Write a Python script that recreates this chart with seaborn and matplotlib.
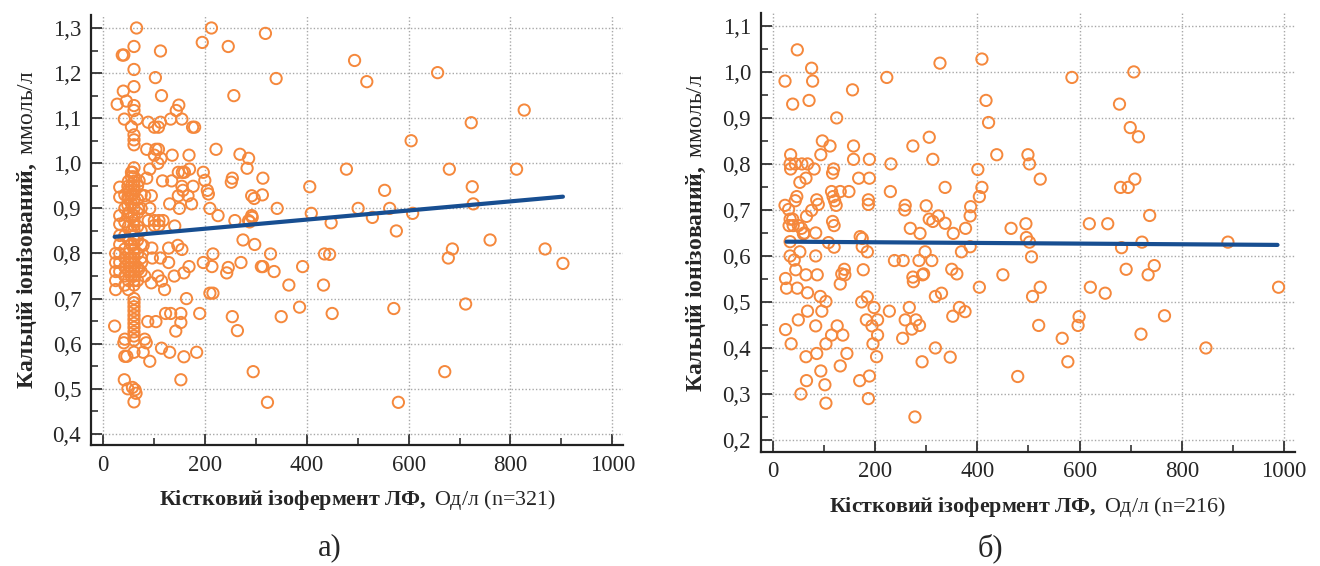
import numpy as np
import pandas as pd
import matplotlib
matplotlib.use("Agg")
import matplotlib.pyplot as plt
import seaborn as sns
from matplotlib.ticker import MultipleLocator, FuncFormatter

# ---------------- data ----------------
# panel a) : bone isoenzyme ALP (U/l) vs ionized calcium (mmol/l)
a_x = [66, 213, 319, 38, 41, 61, 113, 195, 246, 61, 103, 340, 494, 518, 657, 61, 40, 115, 257,
       28, 46, 61, 61, 149, 144, 42, 67, 56, 61, 61, 61, 89, 101, 109, 113, 133, 155, 176, 180, 827, 723, 605,
       86, 104, 109, 101, 114, 108, 136, 169, 222, 269, 286, 283,
       61, 58, 56, 92, 148, 156, 160, 170, 197, 200, 254, 252, 314, 86, 71, 33, 49, 117, 135, 177, 155, 157,
       205, 207, 33, 49, 59, 82, 95, 148, 167, 292, 297, 313,
       131, 174, 49, 69, 92, 150, 210, 33, 33, 49, 61, 61, 61, 61, 89, 101, 110, 118, 101, 110, 141, 226, 259,
       286, 292, 288, 293, 342, 406, 409,
       478, 680, 812, 553, 725, 727, 501, 563, 448, 529, 608, 576, 760, 686, 678, 868, 903, 445,
       275, 298, 311, 216, 197, 214, 243, 246, 271, 169, 159, 140, 155, 147, 129, 129, 108, 115, 121, 95, 82,
       96, 113, 97, 79, 76, 70,
       329, 314, 336, 392, 435, 365, 433, 386, 350, 254, 264, 450, 571, 712, 671, 580, 295, 323,
       33, 33, 33, 33, 33,
       43, 43, 43, 43, 43, 43, 43, 43, 43,
       50, 50, 50, 50, 50, 50, 50, 50, 50, 50, 50,
       56, 56, 56, 56, 56, 56, 56, 56, 56, 56,
       61, 61, 61, 61, 61, 61, 61, 61, 61, 61, 61, 61, 61, 61, 61, 61, 61, 61,
       61, 61, 61, 61, 61, 61, 61, 61, 61, 61, 61,
       68, 68, 68, 68, 68, 68, 68, 68,
       75, 75, 75, 75, 75, 75,
       25, 25, 25, 25, 25,
       23, 43, 41, 43, 47, 61, 79, 82, 85, 92, 88, 104, 115, 131, 159, 184, 123, 133, 153, 153, 143, 164,
       190, 210, 216, 42, 49, 58, 63, 65, 61, 153]
a_y = [1.30, 1.30, 1.288, 1.24, 1.24, 1.259, 1.249, 1.268, 1.259, 1.208, 1.19, 1.188, 1.228, 1.181, 1.201,
       1.17, 1.16, 1.15, 1.15,
       1.131, 1.138, 1.128, 1.117, 1.129, 1.117, 1.098, 1.098, 1.081, 1.063, 1.052, 1.041, 1.091, 1.08, 1.08,
       1.091, 1.098, 1.098, 1.08, 1.08, 1.118, 1.09, 1.05,
       1.031, 1.031, 1.031, 1.018, 1.011, 1.0, 1.018, 1.018, 1.031, 1.02, 1.011, 0.989,
       0.99, 0.98, 0.97, 0.987, 0.98, 0.98, 0.98, 0.987, 0.98, 0.962, 0.967, 0.958, 0.967, 0.967, 0.961,
       0.947, 0.949, 0.961, 0.961, 0.949, 0.949, 0.94,
       0.94, 0.932, 0.925, 0.925, 0.932, 0.928, 0.928, 0.928, 0.928, 0.928, 0.922, 0.93,
       0.91, 0.91, 0.907, 0.90, 0.90, 0.90, 0.90, 0.884, 0.865, 0.884, 0.884, 0.873, 0.862, 0.852, 0.873,
       0.873, 0.873, 0.873, 0.862, 0.862, 0.861, 0.884, 0.873,
       0.873, 0.884, 0.87, 0.88, 0.90, 0.948, 0.889,
       0.987, 0.987, 0.987, 0.94, 0.948, 0.91, 0.90, 0.90, 0.868, 0.88, 0.889, 0.85, 0.83, 0.81, 0.79, 0.81,
       0.778, 0.798,
       0.83, 0.82, 0.771, 0.799, 0.78, 0.771, 0.757, 0.769, 0.78, 0.771, 0.757, 0.75, 0.809, 0.818, 0.812,
       0.78, 0.75, 0.739, 0.72, 0.735, 0.75, 0.812, 0.79, 0.79, 0.818, 0.78, 0.765,
       0.799, 0.771, 0.76, 0.771, 0.799, 0.73, 0.73, 0.681, 0.66, 0.66, 0.629, 0.667, 0.678, 0.688, 0.538,
       0.47, 0.538, 0.47,
       0.84, 0.82, 0.80, 0.78, 0.76,
       0.93, 0.90, 0.87, 0.84, 0.81, 0.79, 0.77, 0.75, 0.73,
       0.96, 0.94, 0.92, 0.89, 0.86, 0.83, 0.80, 0.78, 0.76, 0.74, 0.72,
       0.98, 0.95, 0.93, 0.91, 0.88, 0.85, 0.82, 0.79, 0.77, 0.75,
       0.97, 0.96, 0.95, 0.94, 0.92, 0.90, 0.84, 0.83, 0.82, 0.81, 0.80, 0.79, 0.78, 0.77, 0.76, 0.75, 0.74,
       0.73,
       0.70, 0.691, 0.682, 0.673, 0.663, 0.654, 0.645, 0.636, 0.626, 0.617, 0.608,
       0.95, 0.92, 0.89, 0.86, 0.83, 0.80, 0.77, 0.74,
       0.93, 0.90, 0.85, 0.82, 0.79, 0.76,
       0.80, 0.78, 0.76, 0.74, 0.72,
       0.639, 0.61, 0.602, 0.572, 0.572, 0.581, 0.581, 0.61, 0.602, 0.561, 0.649, 0.649, 0.59, 0.581, 0.571,
       0.581, 0.667, 0.667, 0.667, 0.647, 0.628, 0.70,
       0.667, 0.712, 0.712, 0.52, 0.50, 0.503, 0.498, 0.49, 0.471, 0.52]

# panel b)
b_x = [24, 48, 39, 76, 78, 71, 125, 156, 223, 327, 409, 417, 422,
       97, 112, 94, 158, 158, 189, 231, 230, 274, 306, 313, 337, 401, 409, 404,
       35, 34, 35, 44, 57, 68, 81, 119, 117, 53, 65, 168, 189,
       115, 132, 149, 118, 121, 124, 187, 187, 259, 258, 300,
       47, 44, 24, 31, 86, 89, 76, 34, 39, 66,
       306, 313, 324, 337, 353, 269, 288, 117, 120,
       32, 40, 50, 56, 62, 84, 386, 387, 377, 369, 386,
       438, 499, 502, 523, 708, 680, 695, 737, 466, 495, 619, 655, 496, 502, 506, 682, 722, 890, 450, 691,
       746, 734, 585, 706, 678, 699, 715,
       34, 60, 109, 120, 34, 42, 45, 53, 84, 25, 27, 48, 68, 65, 87, 132, 140, 141, 135,
       171, 175, 175, 185, 177,
       93, 104, 96, 68, 50, 25, 84, 36, 126, 137, 115, 104, 86, 65, 94, 66, 102, 55, 104, 145, 132,
       174, 185, 198, 183, 194, 205, 205, 196, 203, 189, 170, 187, 228,
       238, 255, 286, 311, 298, 293, 274, 295, 350, 360,
       267, 259, 280, 287, 272, 254, 292, 278, 318, 330, 318, 352, 365, 376, 347, 404, 275,
       523, 508, 621, 650, 989, 599, 597, 766, 520, 566, 720, 847, 577, 479]
b_y = [0.98, 1.048, 0.93, 1.008, 0.98, 0.938, 0.90, 0.961, 0.988, 1.019, 1.028, 0.938, 0.89,
       0.85, 0.839, 0.82, 0.839, 0.81, 0.81, 0.80, 0.74, 0.839, 0.858, 0.81, 0.749, 0.788, 0.749, 0.729,
       0.82, 0.80, 0.789, 0.80, 0.80, 0.80, 0.789, 0.789, 0.78, 0.76, 0.769, 0.769, 0.769,
       0.74, 0.74, 0.74, 0.729, 0.72, 0.71, 0.722, 0.712, 0.71, 0.70, 0.709,
       0.729, 0.72, 0.71, 0.701, 0.722, 0.712, 0.699, 0.68, 0.68, 0.686,
       0.68, 0.675, 0.687, 0.671, 0.649, 0.66, 0.649, 0.675, 0.666,
       0.666, 0.666, 0.666, 0.66, 0.65, 0.65, 0.687, 0.707, 0.66, 0.609, 0.62,
       0.82, 0.82, 0.80, 0.767, 0.767, 0.749, 0.749, 0.688, 0.66, 0.67, 0.67, 0.67, 0.64, 0.63, 0.598, 0.618,
       0.63, 0.63, 0.559, 0.571, 0.579, 0.559, 0.988, 1.0, 0.93, 0.879, 0.859,
       0.631, 0.648, 0.629, 0.619, 0.60, 0.591, 0.57, 0.609, 0.60, 0.551, 0.53, 0.53, 0.52, 0.559, 0.559,
       0.539, 0.571, 0.559, 0.561,
       0.642, 0.638, 0.62, 0.609, 0.57,
       0.512, 0.501, 0.48, 0.48, 0.461, 0.44, 0.448, 0.409, 0.448, 0.428, 0.428, 0.409, 0.388, 0.381, 0.35,
       0.329, 0.32, 0.30, 0.28, 0.388, 0.361,
       0.50, 0.511, 0.488, 0.461, 0.448, 0.461, 0.428, 0.409, 0.381, 0.339, 0.329, 0.29, 0.48,
       0.59, 0.59, 0.59, 0.59, 0.609, 0.559, 0.554, 0.561, 0.571, 0.561,
       0.488, 0.461, 0.461, 0.449, 0.441, 0.421, 0.37, 0.25, 0.512, 0.519, 0.40, 0.469, 0.488, 0.479, 0.38,
       0.532, 0.544,
       0.532, 0.512, 0.532, 0.519, 0.532, 0.468, 0.449, 0.47, 0.449, 0.421, 0.43, 0.40, 0.37, 0.338]

# fitted trend lines
trend_a_x = [23, 903]
trend_a_y = [0.837, 0.926]
trend_b_x = [27, 987]
trend_b_y = [0.631, 0.624]

x_ticks = [0, 200, 400, 600, 800, 1000]
a_yticks = [0.4, 0.5, 0.6, 0.7, 0.8, 0.9, 1.0, 1.1, 1.2, 1.3]
b_yticks = [0.2, 0.3, 0.4, 0.5, 0.6, 0.7, 0.8, 0.9, 1.0, 1.1]

y_label_bold = "Кальцій іонізований,"
y_label_unit = "ммоль/л"
x_label_bold = "Кістковий ізофермент ЛФ,"
a_x_unit = "Од/л (n=321)"
b_x_unit = "Од/л (n=216)"
panel_labels = ["а)", "б)"]

# ---------------- style ----------------
sns.set_theme(style="white")
plt.rcParams["font.family"] = ["Liberation Serif", "DejaVu Serif"]
plt.rcParams["mathtext.fontset"] = "custom"
plt.rcParams["mathtext.rm"] = "Liberation Serif"
plt.rcParams["mathtext.bf"] = "Liberation Serif:bold"
plt.rcParams["mathtext.it"] = "Liberation Serif:italic"

ORANGE = "#F5883C"
BLUE = "#174E91"

fig = plt.figure(figsize=(13.2, 5.66), dpi=100)
ax_a = fig.add_axes([0.0689, 0.2138, 0.4031, 0.7597])
ax_b = fig.add_axes([0.5763, 0.2020, 0.4047, 0.7750])


def mk_label(bold, normal):
    b = bold.replace(" ", r"\ ")
    return r"$\mathbf{" + b + r"}$ " + normal


def style(ax, xs, ys, tx, ty, yticks, ylim, xunit):
    sns.scatterplot(x=xs, y=ys, ax=ax, marker="o", s=66, facecolor="none",
                    edgecolor=ORANGE, linewidth=1.4, zorder=3)
    sns.lineplot(x=tx, y=ty, ax=ax, color=BLUE, linewidth=3, zorder=4)
    ax.set_xlim(-23.5, 1021)
    ax.set_ylim(*ylim)
    ax.set_xticks(x_ticks)
    ax.set_yticks(yticks)
    ax.xaxis.set_minor_locator(MultipleLocator(100))
    ax.yaxis.set_minor_locator(MultipleLocator(0.05))
    ax.yaxis.set_major_formatter(FuncFormatter(lambda v, p: f"{v:.1f}".replace(".", ",")))
    ax.tick_params(which="major", direction="in", length=8, width=1.3, color="#333333",
                   labelsize=16.5, pad=7, bottom=True, left=True)
    ax.tick_params(which="minor", direction="in", length=5, width=1.2, color="#333333",
                   bottom=True, left=True)
    ax.grid(True, which="major", linestyle=(0, (1, 1.5)), color="#A8A8A8", linewidth=1.0)
    for s in ["top", "right"]:
        ax.spines[s].set_visible(False)
    for s in ["left", "bottom"]:
        ax.spines[s].set_color("#222222")
        ax.spines[s].set_linewidth(1.6)
    ax.set_xlabel(mk_label(x_label_bold, xunit), fontsize=15.8, labelpad=9)
    ax.set_ylabel(mk_label(y_label_bold, y_label_unit), fontsize=17, labelpad=10)


style(ax_a, a_x, a_y, trend_a_x, trend_a_y, a_yticks, (0.3754, 1.3288), a_x_unit)
style(ax_b, b_x, b_y, trend_b_x, trend_b_y, b_yticks, (0.1746, 1.128), b_x_unit)

fig.text(0.25, 0.032, panel_labels[0], fontsize=22, ha="center", va="center")
fig.text(0.75, 0.032, panel_labels[1], fontsize=22, ha="center", va="center")

fig.savefig("out.png", dpi=100)
